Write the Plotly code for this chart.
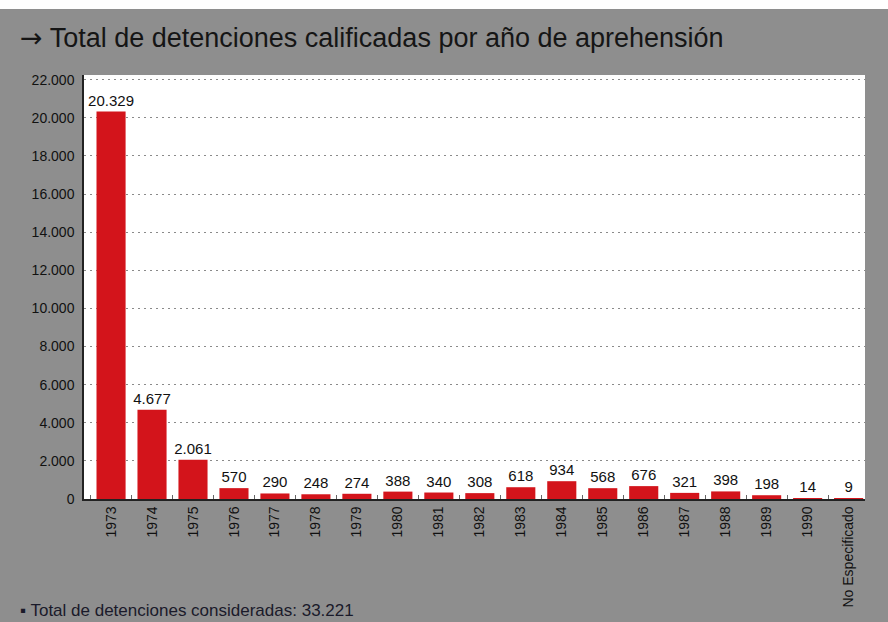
import plotly.graph_objects as go

categories = ["1973", "1974", "1975", "1976", "1977", "1978", "1979", "1980", "1981",
              "1982", "1983", "1984", "1985", "1986", "1987", "1988", "1989", "1990",
              "No Especificado"]
values = [20329, 4677, 2061, 570, 290, 248, 274, 388, 340,
          308, 618, 934, 568, 676, 321, 398, 198, 14, 9]
y_ticks = [0, 2000, 4000, 6000, 8000, 10000, 12000, 14000, 16000, 18000, 20000, 22000]

title_text = ("<span style='font-family:DejaVu Sans'>→</span>"
              " Total de detenciones calificadas por año de aprehensión")
footnote = "▪ Total de detenciones consideradas: 33.221"

FONT = "Liberation Sans, Arial, sans-serif"

fig = go.Figure()
fig.add_trace(go.Bar(
    x=categories,
    y=values,
    marker=dict(color="#d3141b", line=dict(width=0)),
    width=0.71,
    text=[f"{v:,}".replace(",", ".") for v in values],
    textposition="outside",
    textfont=dict(family=FONT, size=15, color="#111111"),
    cliponaxis=False,
    hoverinfo="skip",
))

fig.update_layout(
    width=888, height=622,
    margin=dict(l=84, r=23, t=75, b=123),
    paper_bgcolor="#8e8e8e",
    plot_bgcolor="#ffffff",
    showlegend=False,
    separators=",.",
    font=dict(family=FONT, color="#111111"),
    uniformtext=dict(mode="show", minsize=15),
)
fig.update_xaxes(
    type="category",
    tickangle=-90,
    tickfont=dict(family=FONT, size=14, color="#111111"),
    range=[-0.66, 18.4],
    showline=True, linecolor="#222222", linewidth=1.5,
    ticks="inside", ticklen=4, tickcolor="#666666", tickson="boundaries",
    showgrid=False, zeroline=False,
)
fig.update_yaxes(
    range=[0, 22250],
    tickmode="array",
    tickvals=y_ticks,
    ticktext=[f"{v:,}".replace(",", ".") for v in y_ticks],
    tickfont=dict(family=FONT, size=14, color="#111111"),
    showline=True, linecolor="#222222", linewidth=1.5,
    showgrid=True, gridcolor="#8a8a8a", griddash="2px,4px", gridwidth=1,
    zeroline=False,
    ticks="", ticklabelstandoff=5,
)

# white strip at very top of the scanned page
fig.add_shape(type="rect", xref="paper", yref="paper",
              x0=-0.2, x1=1.2, y0=1 + 66 / 424, y1=1 + 80 / 424,
              fillcolor="#ffffff", line=dict(width=0), layer="above")

fig.add_annotation(text=title_text, xref="paper", yref="paper",
                   x=-66 / 781, y=1 + 38 / 424, xanchor="left", yanchor="middle",
                   showarrow=False, font=dict(family=FONT, size=27, color="#151515"))
fig.add_annotation(text=footnote, xref="paper", yref="paper",
                   x=-66 / 781, y=-111 / 424, xanchor="left", yanchor="middle",
                   showarrow=False, font=dict(family=FONT, size=17, color="#1a1a2a"))

fig.write_html("out.html", post_script="document.body.style.margin='0';",
               config={"displayModeBar": False})
